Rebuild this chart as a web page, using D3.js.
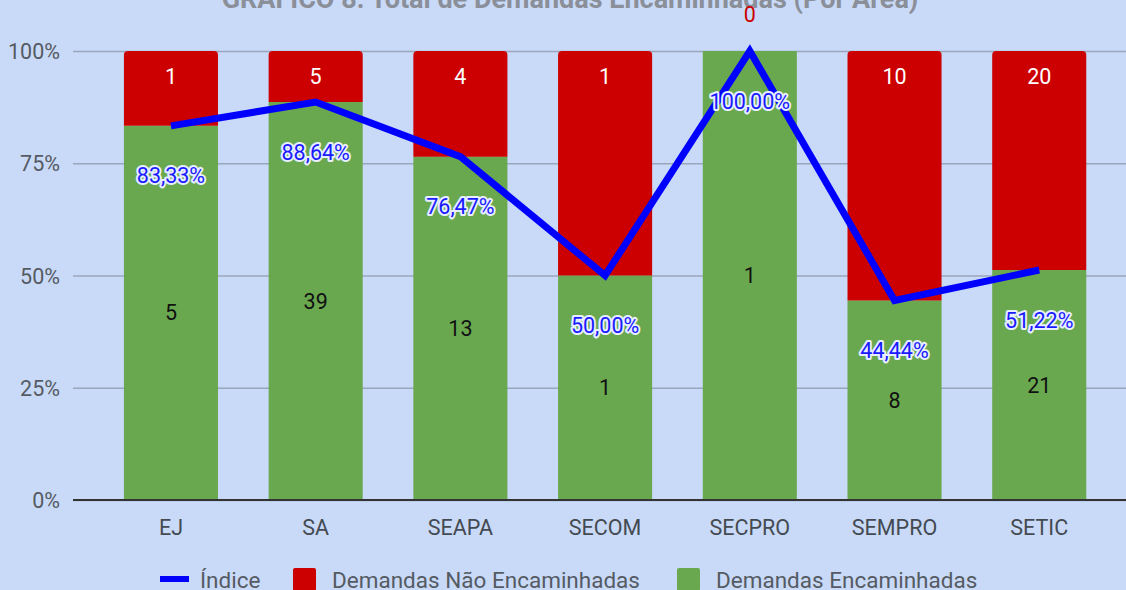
<!DOCTYPE html>
<html>
<head>
<meta charset="utf-8">
<script src="https://cdn.jsdelivr.net/npm/d3@7"></script>
<style>
  body { margin: 0; background: #c9daf8; }
  svg { display: block; font-family: Roboto, "Noto Sans", sans-serif; }
</style>
</head>
<body>
<div class="chart"></div>
<script>
// chart data
var areas = ["EJ", "SA", "SEAPA", "SECOM", "SECPRO", "SEMPRO", "SETIC"];
var encaminhadas = [5, 39, 13, 1, 1, 8, 21];
var naoEncaminhadas = [1, 5, 4, 1, 0, 10, 20];
var indice = [83.33, 88.64, 76.47, 50.00, 100.00, 44.44, 51.22];
var yTicks = [0, 25, 50, 75, 100];

var svgWidth = 1126;
var svgHeight = 590;
var fontSize = 21.5;

var svg = d3.select(".chart")
  .append("svg")
  .attr("width", svgWidth)
  .attr("height", svgHeight);

svg.append("rect")
  .attr("width", svgWidth)
  .attr("height", svgHeight)
  .attr("fill", "#c9daf8");

// scales
var x = d3.scaleBand()
  .domain(areas)
  .range([98.6, 1111.6])
  .paddingInner(0.35)
  .paddingOuter(0.175);

var y = d3.scaleLinear()
  .domain([0, 100])
  .range([500, 51]);

var data = areas.map(function (a, i) {
  var total = encaminhadas[i] + naoEncaminhadas[i];
  return {
    area: a,
    enc: encaminhadas[i],
    nao: naoEncaminhadas[i],
    pEnc: encaminhadas[i] / total * 100,
    idx: indice[i]
  };
});

// title (cut off at top like the source)
svg.append("text")
  .attr("x", 570)
  .attr("y", 8)
  .attr("text-anchor", "middle")
  .attr("font-size", 27)
  .attr("font-weight", "bold")
  .attr("fill", "#8a8f99")
  .text("GRÁFICO 8: Total de Demandas Encaminhadas (Por Área)");

// gridlines + y labels
var leftAxis = d3.axisLeft(y)
  .tickValues(yTicks)
  .tickSize(-(svgWidth - 73))
  .tickFormat(d => d + "%");

var yAxis = svg.append("g")
  .attr("transform", "translate(73,0)")
  .call(leftAxis);
yAxis.select(".domain").remove();
yAxis.selectAll(".tick line")
  .attr("stroke", "#9aa6bb")
  .attr("stroke-width", 1.5);
yAxis.selectAll(".tick text")
  .attr("x", -13)
  .attr("dy", "0.35em")
  .attr("font-size", fontSize)
  .attr("font-family", "Roboto, sans-serif")
  .attr("fill", "#555a63");

// green segments
svg.selectAll(".enc")
  .data(data)
  .enter()
  .append("rect")
  .attr("class", "enc")
  .attr("x", d => x(d.area))
  .attr("width", x.bandwidth())
  .attr("y", d => y(d.pEnc))
  .attr("height", d => y(0) - y(d.pEnc))
  .attr("fill", "#6aa84f");

// red segments, rounded on top
function topRounded(x0, y0, w, h, r) {
  r = Math.min(r, h);
  return "M" + x0 + "," + (y0 + h) +
    "V" + (y0 + r) +
    "Q" + x0 + "," + y0 + " " + (x0 + r) + "," + y0 +
    "H" + (x0 + w - r) +
    "Q" + (x0 + w) + "," + y0 + " " + (x0 + w) + "," + (y0 + r) +
    "V" + (y0 + h) + "Z";
}

svg.selectAll(".nao")
  .data(data.filter(d => d.nao > 0))
  .enter()
  .append("path")
  .attr("class", "nao")
  .attr("d", d => topRounded(x(d.area), y(100), x.bandwidth(), y(d.pEnc) - y(100), 4))
  .attr("fill", "#cc0000");

// baseline
svg.append("line")
  .attr("x1", 73)
  .attr("x2", svgWidth)
  .attr("y1", y(0))
  .attr("y2", y(0))
  .attr("stroke", "#333333")
  .attr("stroke-width", 2);

// x labels
var bottomAxis = d3.axisBottom(x).tickSize(0);
var xAxis = svg.append("g")
  .attr("transform", `translate(0, ${y(0)})`)
  .call(bottomAxis);
xAxis.select(".domain").remove();
xAxis.selectAll(".tick text")
  .attr("y", 27)
  .attr("dy", "0.35em")
  .attr("font-size", fontSize)
  .attr("font-family", "Roboto, sans-serif")
  .attr("fill", "#444a52");

// value labels for green segments
svg.selectAll(".encLbl")
  .data(data)
  .enter()
  .append("text")
  .attr("text-anchor", "middle")
  .attr("dominant-baseline", "central")
  .attr("font-size", fontSize)
  .attr("x", d => x(d.area) + x.bandwidth() / 2)
  .attr("y", d => (y(d.pEnc) + y(0)) / 2)
  .attr("fill", "#111111")
  .text(d => d.enc);

// value labels for red segments
svg.selectAll(".naoLbl")
  .data(data)
  .enter()
  .append("text")
  .attr("text-anchor", "middle")
  .attr("dominant-baseline", "central")
  .attr("font-size", fontSize)
  .attr("x", d => x(d.area) + x.bandwidth() / 2)
  .attr("y", d => d.nao > 0 ? y(100) + 25 : y(100) - 37)
  .attr("fill", d => d.nao > 0 ? "#ffffff" : "#cc0000")
  .text(d => d.nao);

// index line
var line = d3.line()
  .x(d => x(d.area) + x.bandwidth() / 2)
  .y(d => y(d.idx));

svg.append("path")
  .datum(data)
  .attr("d", line)
  .attr("fill", "none")
  .attr("stroke", "#0000ff")
  .attr("stroke-width", 7);

// index labels with halo
svg.selectAll(".idxLbl")
  .data(data)
  .enter()
  .append("text")
  .attr("text-anchor", "middle")
  .attr("dominant-baseline", "central")
  .attr("font-size", fontSize)
  .attr("x", d => x(d.area) + x.bandwidth() / 2)
  .attr("y", d => y(d.idx) + 50)
  .attr("fill", "#1a1aff")
  .attr("stroke", "#e6eeff")
  .attr("stroke-width", 4)
  .attr("stroke-linejoin", "round")
  .attr("paint-order", "stroke")
  .text(d => d.idx.toFixed(2).replace(".", ",") + "%");

// legend
var legend = svg.append("g")
  .attr("font-size", 22.5)
  .attr("fill", "#555a63");

legend.append("line")
  .attr("x1", 160).attr("x2", 189)
  .attr("y1", 579).attr("y2", 579)
  .attr("stroke", "#0000ff")
  .attr("stroke-width", 6);
legend.append("text")
  .attr("x", 200).attr("y", 580)
  .attr("dominant-baseline", "central")
  .text("Índice");

legend.append("rect")
  .attr("x", 293).attr("y", 568)
  .attr("width", 23).attr("height", 23)
  .attr("rx", 2)
  .attr("fill", "#cc0000");
legend.append("text")
  .attr("x", 332).attr("y", 580)
  .attr("dominant-baseline", "central")
  .text("Demandas Não Encaminhadas");

legend.append("rect")
  .attr("x", 677).attr("y", 568)
  .attr("width", 23).attr("height", 23)
  .attr("rx", 2)
  .attr("fill", "#6aa84f");
legend.append("text")
  .attr("x", 716).attr("y", 580)
  .attr("dominant-baseline", "central")
  .text("Demandas Encaminhadas");
</script>
</body>
</html>
